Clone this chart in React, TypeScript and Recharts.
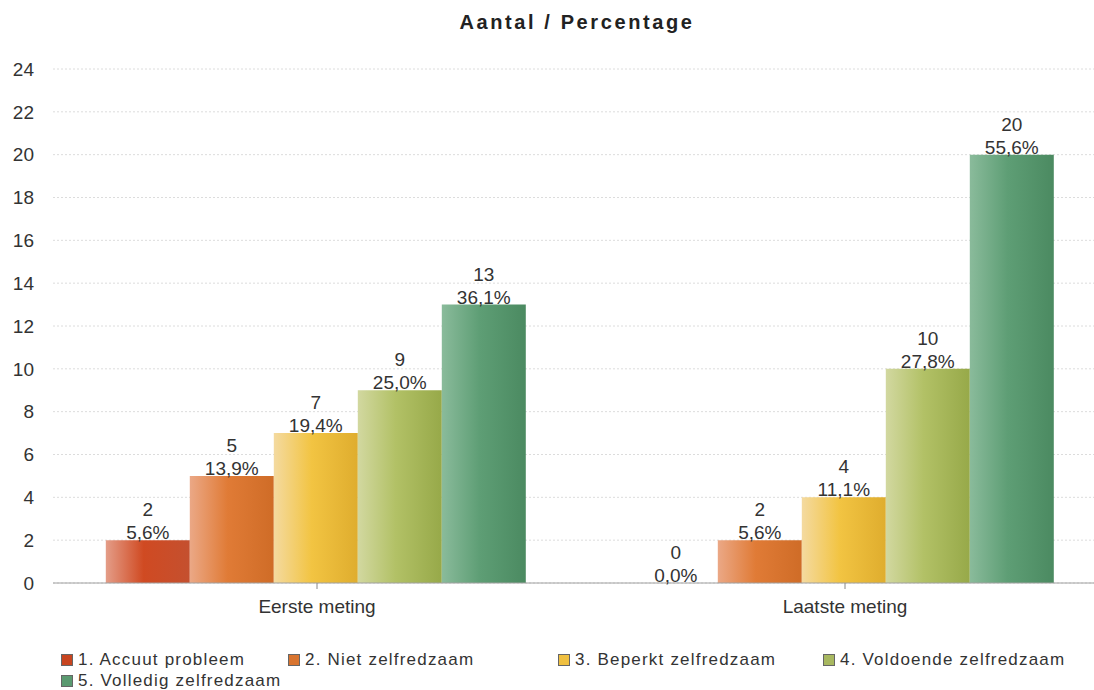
import React from 'react';
import { BarChart, Bar, XAxis, YAxis, CartesianGrid, LabelList } from 'recharts';

// Measurement moments (x categories)
const categories = ['Eerste meting', 'Laatste meting'];

// Self-reliance levels (series)
const seriesNames = [
  '1. Accuut probleem',
  '2. Niet zelfredzaam',
  '3. Beperkt zelfredzaam',
  '4. Voldoende zelfredzaam',
  '5. Volledig zelfredzaam',
];

// Counts per level, one value per measurement moment
const accuutProbleem = [2, 0];
const nietZelfredzaam = [5, 2];
const beperktZelfredzaam = [7, 4];
const voldoendeZelfredzaam = [9, 10];
const volledigZelfredzaam = [13, 20];

const yTicks = [0, 2, 4, 6, 8, 10, 12, 14, 16, 18, 20, 22, 24];

const seriesValues = [
  accuutProbleem,
  nietZelfredzaam,
  beperktZelfredzaam,
  voldoendeZelfredzaam,
  volledigZelfredzaam,
];

// light edge, main colour, shaded edge
const palette = [
  ['#e49d88', '#d04a22', '#c4502f'],
  ['#eba886', '#e07b36', '#cf6c27'],
  ['#f4daa0', '#f2c442', '#dfad2e'],
  ['#d2d8a0', '#b2c166', '#97a949'],
  ['#8abb9b', '#5e9e75', '#4b8a61'],
];

const legendColors = ['#c8451f', '#d8742f', '#f0c040', '#a8b860', '#5a9a70'];
const legendWidths = [227, 270, 265, 280, 280];

const keys = seriesValues.map((_, i) => `s${i}`);

const data = categories.map((name, ci) => {
  const row: Record<string, number | string> = { name };
  let total = 0;
  seriesValues.forEach((vals) => (total += vals[ci]));
  seriesValues.forEach((vals, si) => {
    row[keys[si]] = vals[ci];
  });
  row.total = total;
  return row;
});

const FONT = '"Liberation Sans", Arial, sans-serif';
const TEXT = '#333';

const makeLabel = (key: string) => (props: any) => {
  const { x, y, width, height, index } = props;
  const v = data[index][key] as number;
  const total = data[index].total as number;
  const pct = ((v / total) * 100).toFixed(1).replace('.', ',') + '%';
  const cx = Number(x) + Number(width) / 2;
  // top edge of the bar (height may be reported negative)
  const top = Math.min(Number(y), Number(y) + Number(height || 0));
  return (
    <g>
      <text x={cx} y={top - 24} textAnchor="middle" fill={TEXT} fontSize={19} fontFamily={FONT}>
        {v}
      </text>
      <text x={cx} y={top - 1} textAnchor="middle" fill={TEXT} fontSize={19} fontFamily={FONT}>
        {pct}
      </text>
    </g>
  );
};

// keep empty bars in the layout so their value labels are still placed
const keepEmpty = (value: any) => (Number(value) === 0 ? 0.01 : 0);

export default function App() {
  return (
    <div
      style={{
        position: 'fixed',
        left: 0,
        top: 0,
        width: 1094,
        height: 690,
        overflow: 'hidden',
        background: '#fff',
        fontFamily: FONT,
      }}
    >
      <div
        style={{
          position: 'absolute',
          left: 327,
          top: 10,
          width: 500,
          textAlign: 'center',
          fontSize: 20,
          lineHeight: '24px',
          fontWeight: 'bold',
          letterSpacing: 2.6,
          color: '#222',
        }}
      >
        Aantal / Percentage
      </div>
      <div style={{ position: 'absolute', left: 0, top: 0 }}>
        <BarChart
          width={1130}
          height={620}
          data={data}
          margin={{ top: 69, right: 21, bottom: 7, left: 0 }}
          barCategoryGap="10%"
          barGap={0}
        >
          <defs>
            {palette.map((c, i) => (
              <linearGradient key={i} id={`grad${i}`} x1="0" y1="0" x2="1" y2="0">
                <stop offset="0%" stopColor={c[0]} />
                <stop offset="45%" stopColor={c[1]} />
                <stop offset="100%" stopColor={c[2]} />
              </linearGradient>
            ))}
          </defs>
          <CartesianGrid vertical={false} stroke="#dcdcdc" strokeDasharray="2 2" />
          <XAxis
            dataKey="name"
            height={30}
            axisLine={{ stroke: '#a0a0a0' }}
            tickLine={{ stroke: '#888' }}
            tickSize={6}
            tickMargin={11}
            tick={{ fill: TEXT, fontSize: 19, fontFamily: FONT }}
          />
          <YAxis
            width={53}
            domain={[0, 24]}
            ticks={yTicks}
            axisLine={false}
            tickLine={false}
            tickMargin={13}
            tick={{ fill: TEXT, fontSize: 19, fontFamily: FONT }}
          />
          {keys.map((k, i) => (
            <Bar
              key={k}
              dataKey={k}
              name={seriesNames[i]}
              fill={`url(#grad${i})`}
              minPointSize={keepEmpty}
              isAnimationActive={false}
            >
              <LabelList dataKey={k} content={makeLabel(k)} />
            </Bar>
          ))}
        </BarChart>
      </div>
      <div
        style={{
          position: 'absolute',
          left: 61,
          top: 650,
          width: 1100,
          display: 'flex',
          flexWrap: 'wrap',
          rowGap: 2,
          fontSize: 17,
          letterSpacing: 1.2,
          color: TEXT,
          lineHeight: '19px',
        }}
      >
        {seriesNames.map((n, i) => (
          <div
            key={n}
            style={{
              width: i === 4 ? 400 : legendWidths[i],
              display: 'flex',
              alignItems: 'center',
              whiteSpace: 'nowrap',
              flexBasis: i === 4 ? '100%' : undefined,
            }}
          >
            <span
              style={{
                display: 'inline-block',
                width: 10,
                height: 10,
                background: legendColors[i],
                border: '1px solid #666',
                marginRight: 5,
              }}
            />
            {n}
          </div>
        ))}
      </div>
    </div>
  );
}
